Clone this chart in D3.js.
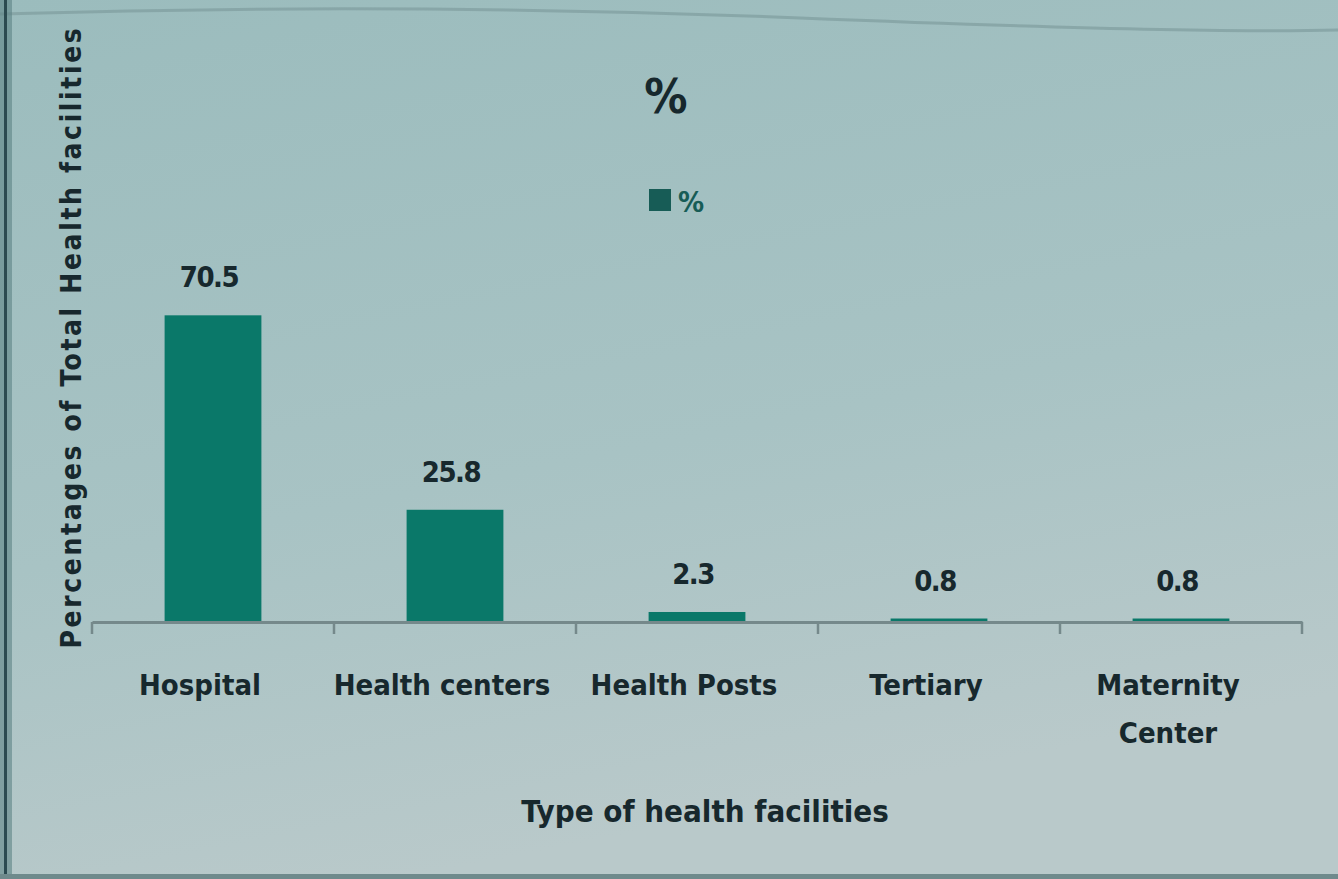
<!DOCTYPE html>
<html><head><meta charset="utf-8">
<script src="https://cdn.jsdelivr.net/npm/d3@7"></script>
<style>
html,body{margin:0;padding:0;background:#a6c2c3;}
svg{display:block;}
text{font-family:"Liberation Sans Narrow","DejaVu Sans Condensed","Liberation Sans",sans-serif;font-weight:bold;fill:#17282d;}
</style></head>
<body>
<svg id="chart" width="1338" height="879"></svg>
<script>
const categories = ["Hospital", "Health centers", "Health Posts", "Tertiary", "Maternity Center"];
const values = [70.5, 25.8, 2.3, 0.8, 0.8];
const labels = ["70.5", "25.8", "2.3", "0.8", "0.8"];
const seriesName = "%";

const W = 1338, H = 879;
const svg = d3.select("#chart");
const defs = svg.append("defs");
const g1 = defs.append("linearGradient").attr("id","bg").attr("x1",0).attr("y1",0).attr("x2",0.3).attr("y2",1);
g1.append("stop").attr("offset","0%").attr("stop-color","#9bbcbd");
g1.append("stop").attr("offset","60%").attr("stop-color","#a8c3c4");
g1.append("stop").attr("offset","100%").attr("stop-color","#b9c9ca");
svg.append("rect").attr("width",W).attr("height",H).attr("fill","url(#bg)");
// photo frame edges
svg.append("path").attr("d","M0,14 Q400,2 800,18 T1338,30").attr("fill","none").attr("stroke","#7f9c9e").attr("stroke-width",3).attr("opacity",0.7);
svg.append("rect").attr("x",0).attr("y",0).attr("width",12).attr("height",H).attr("fill","#5d8486").attr("opacity",0.6);
svg.append("rect").attr("x",4).attr("y",0).attr("width",3).attr("height",H).attr("fill","#2b4a50");
svg.append("rect").attr("x",0).attr("y",874).attr("width",W).attr("height",5).attr("fill","#6f8a8c");

const x = d3.scaleBand().domain(categories).range([92, 1302]).paddingInner(0.6).paddingOuter(0.3);
const xb = d3.scaleBand().domain(categories).range([92, 1302]);
const y = d3.scaleLinear().domain([0, 80]).range([622, 274]);

const barColor = "#0a7869";
svg.append("g").selectAll("rect").data(values).join("rect")
  .attr("x",(d,i)=>x(categories[i]))
  .attr("width",x.bandwidth())
  .attr("y",d=>y(d))
  .attr("height",d=>y(0)-y(d))
  .attr("fill",barColor);

// axis
const ax = svg.append("g").attr("transform","translate(0,"+y(0)+")")
  .call(d3.axisBottom(xb).tickSize(0).tickFormat(""));
ax.select(".domain").attr("stroke","#75898b").attr("stroke-width",3);
const tickPos = categories.map(c=>xb(c)).concat([xb(categories[categories.length-1])+xb.bandwidth()]);
ax.selectAll("line.tk").data(tickPos).join("line").attr("class","tk")
  .attr("x1",d=>d).attr("x2",d=>d).attr("y1",0).attr("y2",12)
  .attr("stroke","#75898b").attr("stroke-width",2.5);

// value labels
svg.append("g").selectAll("text").data(values).join("text")
  .attr("x",(d,i)=>x(categories[i])+x.bandwidth()/2 - 4)
  .attr("y",d=>y(d)-28)
  .attr("text-anchor","middle")
  .attr("font-size",29)
  .attr("letter-spacing",-1.5)
  .text((d,i)=>labels[i]);

// category labels
categories.forEach((c,i)=>{
  const cx = xb(c)+xb.bandwidth()/2 - 13;
  const t = svg.append("text").attr("x",cx).attr("y",695).attr("text-anchor","middle").attr("font-size",29);
  if (c === "Maternity Center") {
    t.append("tspan").attr("x",cx).text("Maternity");
    t.append("tspan").attr("x",cx).attr("dy",48).text("Center");
  } else t.text(c);
});

// axis titles
svg.append("text").attr("x",705).attr("y",822).attr("text-anchor","middle").attr("font-size",31).text("Type of health facilities");
svg.append("text").attr("transform","translate(81,337) rotate(-90)").attr("text-anchor","middle").attr("font-size",28).attr("letter-spacing",2.6).text("Percentages of Total Health facilities");

// title
svg.append("text").attr("x",666).attr("y",113).attr("text-anchor","middle").attr("font-size",48).text(seriesName);

// legend
svg.append("rect").attr("x",649).attr("y",189).attr("width",22).attr("height",22).attr("fill","#175c56");
svg.append("text").attr("x",678).attr("y",212).attr("font-size",29).style("fill","#175c56").text(seriesName);
</script>
</body></html>
